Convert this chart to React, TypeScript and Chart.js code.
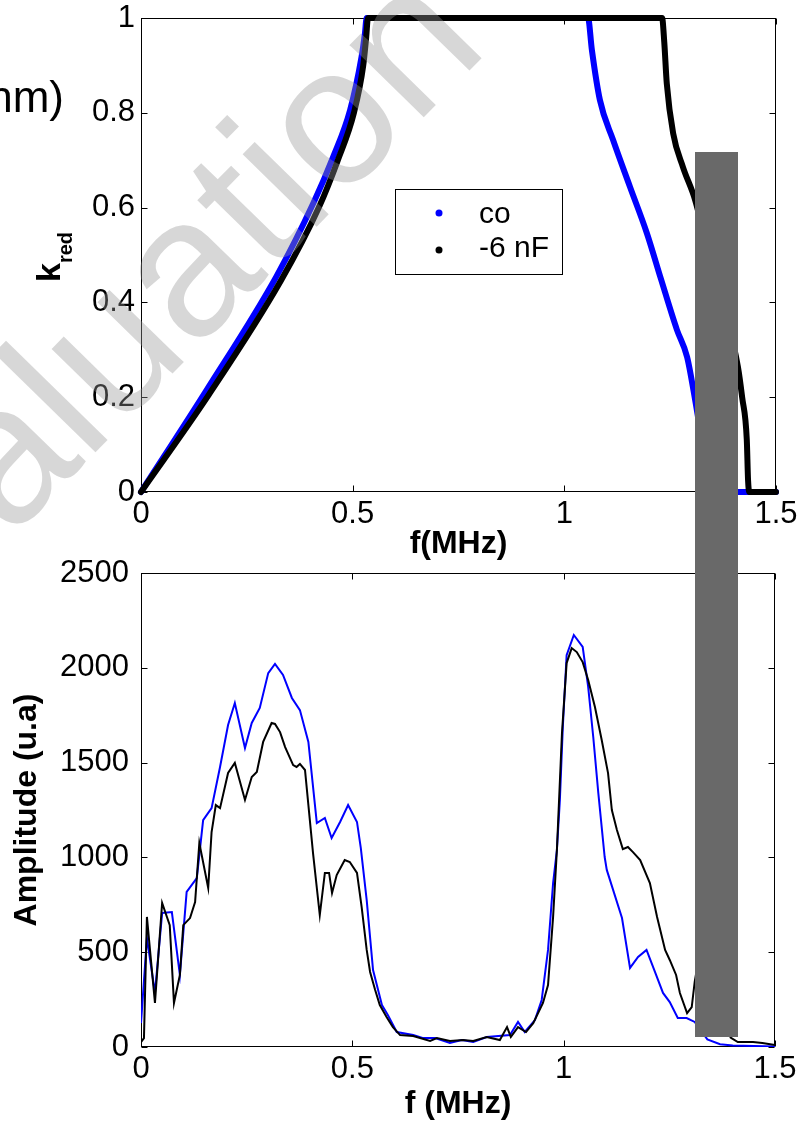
import React, { useEffect, useRef } from 'react';
import { Chart, registerables } from 'chart.js';

Chart.register(...registerables);

const FONT = 'Arial, "Liberation Sans", Helvetica, sans-serif';

// ---- Top panel: k_red vs f (MHz) ----
const kredFreqCo = [0, 0.155, 0.32, 0.407, 0.454, 0.494, 0.521, 0.529, 0.533, 1.056, 1.065, 1.084, 1.115, 1.155, 1.195, 1.228, 1.266, 1.29, 1.309, 1.33, 1.345, 1.5];
const kredValuesCo = [0, 0.215, 0.455, 0.609, 0.707, 0.806, 0.918, 0.968, 1, 1, 0.933, 0.827, 0.743, 0.644, 0.546, 0.45, 0.342, 0.285, 0.194, 0.08, 0, 0];
const kredFreq6nF = [0, 0.16, 0.33, 0.42, 0.465, 0.503, 0.525, 0.532, 0.536, 1.231, 1.236, 1.242, 1.257, 1.28, 1.309, 1.35, 1.38, 1.41, 1.42, 1.431, 1.434, 1.437, 1.5];
const kredValues6nF = [0, 0.205, 0.445, 0.6, 0.7, 0.8, 0.9, 0.96, 1, 1, 0.95, 0.862, 0.757, 0.686, 0.616, 0.47, 0.38, 0.264, 0.2, 0.11, 0.025, 0, 0];

// ---- Bottom panel: Amplitude vs f (MHz) ----
const ampFreqCo = [0, 0.014, 0.033, 0.05, 0.073, 0.092, 0.108, 0.132, 0.147, 0.167, 0.187, 0.206, 0.222, 0.246, 0.262, 0.281, 0.301, 0.317, 0.336, 0.357, 0.376, 0.396, 0.416, 0.435, 0.451, 0.471, 0.49, 0.511, 0.52, 0.534, 0.549, 0.57, 0.584, 0.605, 0.644, 0.668, 0.696, 0.731, 0.759, 0.786, 0.818, 0.873, 0.892, 0.908, 0.932, 0.948, 0.963, 0.975, 0.984, 0.991, 0.998, 1.007, 1.024, 1.045, 1.058, 1.07, 1.082, 1.097, 1.102, 1.138, 1.157, 1.176, 1.196, 1.216, 1.235, 1.251, 1.27, 1.291, 1.31, 1.34, 1.37, 1.4, 1.45, 1.5];
const ampValuesCo = [126, 575, 285, 707, 712, 380, 818, 891, 1197, 1260, 1477, 1698, 1814, 1577, 1709, 1788, 1972, 2020, 1962, 1841, 1777, 1609, 1181, 1208, 1102, 1187, 1276, 1187, 1050, 775, 406, 221, 169, 79, 63, 47, 47, 21, 37, 26, 53, 63, 132, 79, 142, 248, 512, 865, 1039, 1302, 1688, 2067, 2173, 2110, 1899, 1635, 1339, 1002, 934, 680, 417, 475, 512, 396, 285, 237, 153, 153, 132, 40, 15, 8, 5, 3];
const ampFreq6nF = [0, 0.007, 0.014, 0.033, 0.05, 0.068, 0.078, 0.092, 0.1, 0.116, 0.128, 0.138, 0.159, 0.167, 0.177, 0.187, 0.206, 0.222, 0.246, 0.262, 0.274, 0.289, 0.309, 0.317, 0.329, 0.341, 0.36, 0.368, 0.376, 0.388, 0.407, 0.423, 0.435, 0.445, 0.452, 0.463, 0.482, 0.494, 0.511, 0.522, 0.534, 0.542, 0.554, 0.565, 0.581, 0.596, 0.613, 0.644, 0.684, 0.7, 0.731, 0.762, 0.786, 0.818, 0.849, 0.866, 0.875, 0.892, 0.911, 0.928, 0.951, 0.963, 0.975, 0.984, 0.996, 1.007, 1.019, 1.031, 1.045, 1.058, 1.074, 1.09, 1.105, 1.114, 1.126, 1.14, 1.152, 1.164, 1.181, 1.204, 1.221, 1.24, 1.251, 1.266, 1.275, 1.292, 1.303, 1.31, 1.33, 1.36, 1.38, 1.395, 1.412, 1.448, 1.47, 1.5];
const ampValues6nF = [26, 47, 686, 232, 760, 643, 232, 380, 643, 680, 765, 1076, 839, 1134, 1276, 1260, 1445, 1498, 1303, 1424, 1450, 1609, 1709, 1704, 1661, 1582, 1487, 1477, 1493, 1461, 1023, 696, 918, 918, 812, 907, 986, 976, 918, 739, 512, 396, 301, 221, 158, 105, 63, 58, 32, 47, 32, 37, 32, 53, 37, 105, 53, 105, 79, 126, 232, 327, 686, 1039, 1656, 2025, 2104, 2083, 2030, 1936, 1793, 1619, 1445, 1250, 1144, 1044, 1055, 1028, 986, 865, 686, 512, 459, 380, 285, 179, 211, 343, 600, 450, 150, 50, 26, 26, 21, 10];

const seriesLabels = ['co', '-6 nF'];
const seriesColors = ['#0000ff', '#000000'];
const freqTicks = [0, 0.5, 1, 1.5];
const kredTicks = [0, 0.2, 0.4, 0.6, 0.8, 1];
const ampTicks = [0, 500, 1000, 1500, 2000, 2500];

const toPoints = (xs: number[], ys: number[]) => xs.map((x, i) => ({ x, y: ys[i] }));

const framePlugin = {
  id: 'frame',
  beforeDatasetsDraw(chart: any) {
    const { ctx, chartArea } = chart;
    const { left, right, top, bottom } = chartArea;
    const xs = chart.scales.x;
    const ys = chart.scales.y;
    ctx.save();
    ctx.strokeStyle = '#000';
    ctx.lineWidth = 1;
    const L = Math.round(left) + 0.5;
    const R = Math.round(right) - 0.5;
    const T = Math.round(top) + 0.5;
    const B = Math.round(bottom) - 0.5;
    ctx.strokeRect(L, T, R - L, B - T);
    const len = 6;
    ctx.beginPath();
    xs.ticks.forEach((t: any) => {
      const p = Math.round(xs.getPixelForValue(t.value)) + 0.5;
      ctx.moveTo(p, B); ctx.lineTo(p, B - len);
      ctx.moveTo(p, T); ctx.lineTo(p, T + len);
    });
    ys.ticks.forEach((t: any) => {
      const p = Math.round(ys.getPixelForValue(t.value)) + 0.5;
      ctx.moveTo(L, p); ctx.lineTo(L + len, p);
      ctx.moveTo(R, p); ctx.lineTo(R - len, p);
    });
    ctx.stroke();
    ctx.restore();
  },
};

const kredLabelPlugin = {
  id: 'kredLabel',
  afterDraw(chart: any) {
    const { ctx } = chart;
    ctx.save();
    ctx.translate(60, 282);
    ctx.rotate(-Math.PI / 2);
    ctx.fillStyle = '#000';
    ctx.textAlign = 'left';
    ctx.textBaseline = 'alphabetic';
    ctx.font = `bold 34px ${FONT}`;
    ctx.fillText('k', 0, 0);
    const w = ctx.measureText('k').width;
    ctx.font = `bold 20px ${FONT}`;
    ctx.fillText('red', w, 12);
    ctx.restore();
  },
};

const legendPlugin = {
  id: 'boxLegend',
  afterDraw(chart: any) {
    const { ctx } = chart;
    ctx.save();
    ctx.fillStyle = '#fff';
    ctx.fillRect(395, 189, 167, 85);
    ctx.strokeStyle = '#000';
    ctx.lineWidth = 1;
    ctx.strokeRect(395.5, 189.5, 167, 85);
    const rows = [
      { label: seriesLabels[0], color: seriesColors[0], dotY: 213, baseY: 223 },
      { label: seriesLabels[1], color: seriesColors[1], dotY: 250, baseY: 257 },
    ];
    ctx.font = `30px ${FONT}`;
    ctx.textBaseline = 'alphabetic';
    ctx.textAlign = 'left';
    rows.forEach((r) => {
      ctx.fillStyle = r.color;
      ctx.beginPath();
      ctx.arc(439, r.dotY, 3.5, 0, Math.PI * 2);
      ctx.fill();
      ctx.fillStyle = '#000';
      ctx.fillText(r.label, 479, r.baseY);
    });
    ctx.restore();
  },
};

const tickFont = { family: FONT, size: 31 };
const titleFont = { family: FONT, size: 32, weight: 'bold' as const, lineHeight: 1 };

function makeXScale(height: number, title: string, padBottom: number) {
  return {
    type: 'linear' as const,
    min: freqTicks[0],
    max: freqTicks[freqTicks.length - 1],
    afterBuildTicks: (s: any) => { s.ticks = freqTicks.map((v) => ({ value: v })); },
    afterFit: (s: any) => { s.height = height; s.paddingLeft = 0; s.paddingRight = 0; },
    grid: { display: false, drawTicks: false },
    border: { display: false },
    ticks: { autoSkip: false, maxRotation: 0, padding: 4, color: '#000', font: tickFont, callback: (v: any) => String(v) },
    title: { display: !!title, text: title, color: '#000', font: titleFont, padding: { top: 0, bottom: padBottom } },
  };
}

function makeYScale(ticks: number[], title: string, labelPad: number) {
  return {
    type: 'linear' as const,
    min: ticks[0],
    max: ticks[ticks.length - 1],
    afterBuildTicks: (s: any) => { s.ticks = ticks.map((v) => ({ value: v })); },
    afterFit: (s: any) => { s.width = 141; s.paddingTop = 0; s.paddingBottom = 0; },
    grid: { display: false, drawTicks: false },
    border: { display: false },
    ticks: { autoSkip: false, padding: labelPad, color: '#000', font: tickFont, callback: (v: any) => String(v) },
    title: { display: !!title, text: title, color: '#000', font: titleFont, padding: { top: 11.5, bottom: 0 } },
  };
}

export default function App() {
  const topRef = useRef<HTMLCanvasElement | null>(null);
  const botRef = useRef<HTMLCanvasElement | null>(null);

  useEffect(() => {
    const thick = { showLine: true, borderWidth: 6, pointRadius: 0, borderCapStyle: 'round', borderJoinStyle: 'round', clip: false, cubicInterpolationMode: 'monotone' };
    const top = new Chart(topRef.current as HTMLCanvasElement, {
      type: 'scatter',
      data: {
        datasets: [
          { ...thick, label: seriesLabels[1], data: toPoints(kredFreq6nF, kredValues6nF), borderColor: seriesColors[1], backgroundColor: seriesColors[1], order: 0 },
          { ...thick, label: seriesLabels[0], data: toPoints(kredFreqCo, kredValuesCo), borderColor: seriesColors[0], backgroundColor: seriesColors[0], order: 1 },
        ],
      } as any,
      options: {
        animation: false,
        responsive: false,
        devicePixelRatio: 1,
        layout: { padding: { left: 0, right: 33, top: 18, bottom: 0 } },
        plugins: { legend: { display: false }, tooltip: { enabled: false } },
        scales: {
          x: makeXScale(73, 'f(MHz)', 4.5),
          y: makeYScale(kredTicks, '', 6),
        },
      } as any,
      plugins: [framePlugin, kredLabelPlugin, legendPlugin],
    });

    const bot = new Chart(botRef.current as HTMLCanvasElement, {
      type: 'scatter',
      data: {
        datasets: [
          { label: seriesLabels[1], data: toPoints(ampFreq6nF, ampValues6nF), showLine: true, borderColor: seriesColors[1], backgroundColor: seriesColors[1], borderWidth: 2, pointRadius: 0, order: 0 },
          { label: seriesLabels[0], data: toPoints(ampFreqCo, ampValuesCo), showLine: true, borderColor: seriesColors[0], backgroundColor: seriesColors[0], borderWidth: 2, pointRadius: 0, order: 1 },
        ],
      },
      options: {
        animation: false,
        responsive: false,
        devicePixelRatio: 1,
        layout: { padding: { left: 0, right: 34, top: 18, bottom: 0 } },
        plugins: { legend: { display: false }, tooltip: { enabled: false } },
        scales: {
          x: makeXScale(75, 'f (MHz)', 2),
          y: makeYScale(ampTicks, 'Amplitude (u.a)', 12),
        },
      } as any,
      plugins: [framePlugin],
    });

    return () => { top.destroy(); bot.destroy(); };
  }, []);

  return (
    <div style={{ position: 'absolute', left: 0, top: 0, width: 809, height: 1122, background: '#fff', overflow: 'hidden' }}>
      <canvas ref={topRef} width={809} height={565} style={{ position: 'absolute', left: 0, top: 0, width: 809, height: 565 }} />
      <canvas ref={botRef} width={809} height={567} style={{ position: 'absolute', left: 0, top: 555, width: 809, height: 567 }} />
      <svg width={809} height={1122} style={{ position: 'absolute', left: 0, top: 0, pointerEvents: 'none' }}>
        <text x={64} y={112} textAnchor="end" fontFamily={FONT} fontSize={44} fill="#000">(nm)</text>
        <text x={-150} y={703} transform="rotate(-45.6 -150 703)" fontFamily={FONT} fontSize={196} fill="rgba(150,150,150,0.38)">Evaluation</text>
        <rect x={695} y={152} width={43} height={885} fill="#696969" />
      </svg>
    </div>
  );
}
